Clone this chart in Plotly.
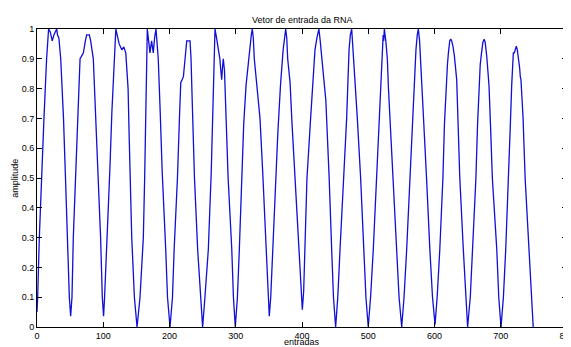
import plotly.graph_objects as go

# Values (sample index, amplitude)
x_pts = [
    0, 1, 3.5, 6.5, 10.5, 14.5, 17.5, 20, 23, 25.5, 28, 29.7, 31, 33, 35.8, 38, 40, 43, 45.7, 48.8,
    50.8, 52.8, 54.8, 58.5, 61.5, 65, 67.5, 70, 73, 75, 79, 81, 85, 89, 92.5, 96, 98.6,
    100.5, 102, 106, 110, 113, 116.5, 119, 121, 124, 128, 131, 134, 137.5, 139, 140.8, 143, 147,
    151, 155.5, 160.5, 162.5, 164.5, 166.5, 168.5, 170.5, 173, 175.5, 177.5, 179.6, 181, 183, 186, 189, 194.3, 197,
    200.8, 204.5, 207, 212, 215, 217, 219, 221, 223.5, 226, 231, 232.5, 234, 236, 237.7, 242.5, 246.5,
    250, 253.5, 258.6, 263, 265.5, 267.5, 268.7, 271, 274, 276, 277.5, 278.8, 280, 281.2, 283, 285.5, 288.5, 294, 296.5,
    299.3, 302.5, 305.4, 309, 312, 315.5, 318.5, 321.5, 323.5, 325, 326.5, 328, 330, 332.5, 334.5, 336.6, 340.7, 345.7, 348.5,
    350.6, 352.8, 355.8, 360, 363.5, 367.5, 371.5, 375.4, 377, 378.4, 380.5, 382, 385, 389.5, 396, 398.5,
    400.5, 402.5, 404.5, 407.5, 413, 417, 419.6, 422.5, 425.5, 427.5, 429.7, 433, 436, 438.5, 441, 444.8, 447.5,
    450.8, 454, 457.4, 463, 467.4, 471, 473, 475, 477.5, 480.5, 483.5, 488.5, 493.6, 496.5,
    500, 503.5, 507.6, 512.5, 516.7, 519.5, 521.5, 522.5, 523.3, 524.3, 526.5, 528.8, 530.5, 532.8, 537.5, 543, 546.5,
    550.5, 554, 558, 563, 567, 569.5, 572, 574, 575.6, 577.5, 579, 581.5, 584, 588, 593, 597,
    600.8, 604, 608, 612.7, 615, 617.4, 619.5, 621, 623, 624.5, 626, 628, 630, 633.5, 635.5, 638.2, 643.5, 647,
    650, 654, 657.7, 662.5, 665, 667, 669, 671, 673, 675, 676.5, 678.8, 682.3, 684.5, 687.3, 694, 697,
    700.4, 704, 707.5, 712, 714.5, 716.5, 718, 719, 720.5, 722, 723.5, 725, 727, 728.5, 729.5, 730.5, 732, 733.7, 736.8, 743, 746.5,
    749,
]
y_pts = [
    0.05, 0.10, 0.30, 0.50, 0.70, 0.90, 1.00, 0.99, 0.96, 0.98, 0.99, 1.00, 0.98, 0.97, 0.90, 0.80, 0.70, 0.50, 0.30, 0.10,
    0.036, 0.10, 0.30, 0.52, 0.72, 0.90, 0.91, 0.92, 0.96, 0.98, 0.98, 0.96, 0.90, 0.70, 0.52, 0.30, 0.10,
    0.036, 0.10, 0.30, 0.53, 0.72, 0.90, 1.00, 0.98, 0.95, 0.93, 0.94, 0.92, 0.80, 0.65, 0.50, 0.30, 0.10,
    0.0, 0.10, 0.30, 0.50, 0.75, 1.00, 0.96, 0.92, 0.96, 0.92, 0.97, 1.00, 0.96, 0.90, 0.72, 0.52, 0.26, 0.10,
    0.0, 0.10, 0.26, 0.50, 0.70, 0.82, 0.83, 0.84, 0.90, 0.96, 0.96, 0.90, 0.78, 0.62, 0.50, 0.26, 0.10,
    0.0, 0.10, 0.26, 0.52, 0.75, 0.92, 1.00, 0.97, 0.93, 0.90, 0.86, 0.83, 0.87, 0.90, 0.86, 0.70, 0.50, 0.26, 0.10,
    0.0, 0.10, 0.26, 0.50, 0.68, 0.81, 0.88, 0.94, 0.98, 1.00, 0.97, 0.90, 0.85, 0.81, 0.76, 0.70, 0.52, 0.26, 0.10,
    0.036, 0.10, 0.26, 0.50, 0.65, 0.81, 0.93, 1.00, 0.97, 0.90, 0.85, 0.82, 0.68, 0.50, 0.26, 0.12,
    0.058, 0.12, 0.26, 0.50, 0.70, 0.85, 0.93, 0.97, 1.00, 0.96, 0.90, 0.83, 0.76, 0.65, 0.50, 0.26, 0.10,
    0.0, 0.10, 0.26, 0.50, 0.70, 0.93, 0.98, 1.00, 0.92, 0.82, 0.70, 0.50, 0.26, 0.10,
    0.0, 0.10, 0.26, 0.50, 0.70, 0.85, 0.94, 0.98, 0.96, 1.00, 0.96, 0.90, 0.80, 0.70, 0.50, 0.26, 0.10,
    0.0, 0.10, 0.26, 0.50, 0.70, 0.83, 0.93, 0.98, 1.00, 0.96, 0.90, 0.80, 0.70, 0.50, 0.26, 0.10,
    0.008, 0.10, 0.26, 0.50, 0.68, 0.81, 0.88, 0.92, 0.96, 0.966, 0.96, 0.94, 0.91, 0.83, 0.70, 0.50, 0.26, 0.10,
    0.0, 0.10, 0.26, 0.50, 0.68, 0.81, 0.88, 0.92, 0.955, 0.966, 0.955, 0.91, 0.81, 0.68, 0.50, 0.26, 0.10,
    0.0, 0.10, 0.26, 0.50, 0.68, 0.81, 0.88, 0.92, 0.92, 0.935, 0.942, 0.93, 0.90, 0.87, 0.84, 0.83, 0.77, 0.70, 0.50, 0.26, 0.10,
    0.0,
]

x_ticks = [0, 100, 200, 300, 400, 500, 600, 700, 800]
y_ticks = [0, 0.1, 0.2, 0.3, 0.4, 0.5, 0.6, 0.7, 0.8, 0.9, 1]
y_tick_labels = ["0", "0.1", "0.2", "0.3", "0.4", "0.5", "0.6", "0.7", "0.8", "0.9", "1"]

title_text = "Vetor de entrada da RNA"
x_label = "entradas"
y_label = "amplitude"

FONT = "Liberation Sans, Arial, Helvetica, sans-serif"

fig = go.Figure()
fig.add_trace(go.Scatter(
    x=x_pts, y=y_pts, mode="lines",
    line=dict(color="rgb(15,15,215)", width=1.3),
    showlegend=False, hoverinfo="skip",
))

axis_common = dict(
    showline=True, linecolor="black", linewidth=1, mirror="ticks",
    ticks="inside", ticklen=5, tickwidth=1, tickcolor="black",
    showgrid=False, zeroline=False, automargin=False,
    ticklabeloverflow="allow",
    tickfont=dict(family=FONT, size=9, color="black"),
)

fig.update_xaxes(range=[0, 800], tickmode="array", tickvals=x_ticks,
                 ticktext=[str(v) for v in x_ticks], **axis_common)
fig.update_yaxes(range=[0, 1], tickmode="array", tickvals=y_ticks,
                 ticktext=y_tick_labels, **axis_common)

# The page body has an 8px margin, so the figure is shrunk by 8px and the
# margins reduced so the plot area lands where it is in the reference.
fig.update_layout(
    template="none",
    width=563, height=339,
    margin=dict(l=29, r=4, t=21, b=20, autoexpand=False),
    paper_bgcolor="white", plot_bgcolor="white",
    font=dict(family=FONT, size=9, color="black"),
    annotations=[
        dict(text=title_text, xref="paper", yref="paper", x=0.5, y=1.031,
             xanchor="center", yanchor="middle", showarrow=False,
             font=dict(family=FONT, size=9, color="black")),
        dict(text=x_label, xref="paper", yref="paper", x=0.5, y=-0.052,
             xanchor="center", yanchor="middle", showarrow=False,
             font=dict(family=FONT, size=9, color="black")),
        dict(text=y_label, xref="paper", yref="paper", x=-0.042, y=0.5,
             xanchor="center", yanchor="middle", showarrow=False, textangle=-90,
             font=dict(family=FONT, size=9, color="black")),
    ],
)

fig.write_html("out.html")
